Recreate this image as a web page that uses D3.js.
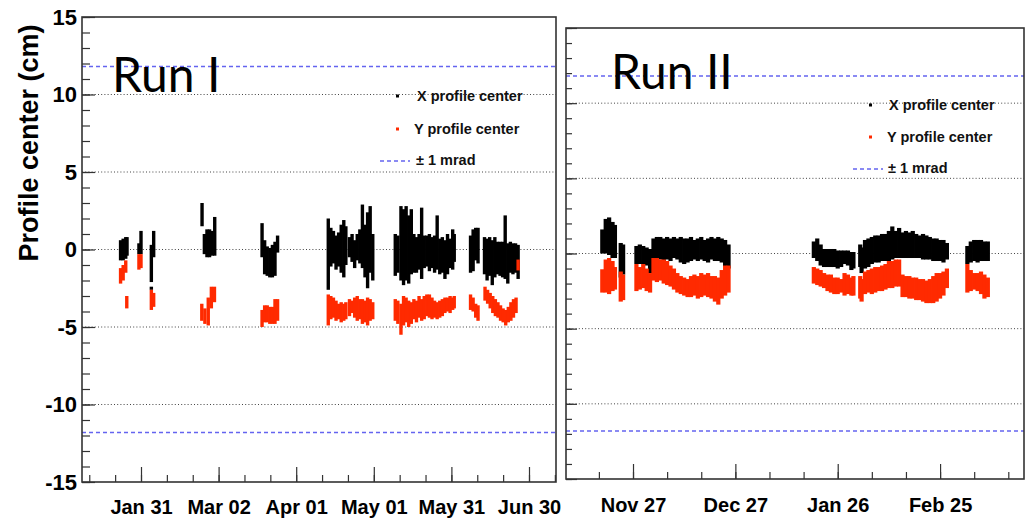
<!DOCTYPE html>
<html>
<head>
<meta charset="utf-8">
<script src="https://cdn.jsdelivr.net/npm/d3@7"></script>
<style>
  body { margin: 0; background: #fff; }
  svg { display: block; }
  text { font-family: "Liberation Sans", Arial, Helvetica, sans-serif; }
</style>
</head>
<body>
<svg id="chart" width="1027" height="520"></svg>
<script>
// ---------- Run I (day of year 2011; rows are [day, low, high] in cm) ----------
const run1X = [
  [23.1,-0.7,0.6],[24.1,-0.7,0.7],[25.1,-0.6,0.8],[25.6,-0.4,0.8],
  [30.2,-0.3,0.4],[31.0,-0.3,1.2],
  [35.0,-2.1,0.3],[35.9,-0.5,1.2],[35.0,-2.6,-2.4],
  [54.6,1.5,3.0],[55.5,-0.3,1.0],[56.5,-0.5,1.3],[57.5,-0.5,1.3],[58.5,-0.4,1.2],[59.5,-0.4,2.1],
  [77.8,-0.5,1.7],[78.8,-1.6,0.6],[79.8,-1.7,0.2],[80.8,-1.8,0.1],[81.8,-1.8,0.3],[82.8,-1.7,0.5],[83.8,-0.2,0.9],
  [103.4,-2.6,2.0],[104.4,-1.1,1.4],[105.4,-0.9,1.2],[106.4,-1.3,0.9],[107.4,-1.1,1.1],[108.4,-1.5,1.6],
  [109.4,-1.8,1.9],[110.2,-1.0,1.5],
  [111.6,-0.5,0.8],[112.6,-0.8,1.0],[113.6,-1.2,0.6],[114.6,-0.7,1.0],[115.6,-0.9,1.3],[116.6,-1.2,2.9],
  [117.6,-1.8,1.6],[118.6,-2.5,2.4],[119.6,-1.5,2.8],[120.6,-2.0,1.0],
  [129.3,-1.7,1.0],[130.3,-1.5,0.9],[131.5,-2.0,2.8],[132.5,-2.3,2.6],[133.5,-2.0,2.8],[134.5,-2.2,2.2],
  [135.5,-1.6,2.6],[136.5,-1.5,1.0],[137.5,-1.5,0.8],[138.5,-1.3,1.0],[139.5,-1.9,2.7],[140.5,-1.2,0.9],
  [141.5,-1.1,0.9],[142.5,-1.4,1.0],[143.5,-1.2,0.8],[144.5,-1.5,0.9],[145.5,-1.3,2.2],[146.5,-1.6,0.7],
  [147.5,-1.5,0.8],[148.5,-1.9,0.6],[149.5,-1.6,1.0],[150.5,-1.2,0.7],[151.5,-1.3,1.3],[152.1,-0.8,1.0],
  [158.4,-1.5,0.9],[159.4,-1.4,1.3],[160.4,-0.7,1.4],[161.3,-0.9,1.4],
  [163.8,-1.6,0.8],[164.8,-2.0,0.7],[165.8,-1.7,0.8],[166.8,-2.3,0.6],[167.8,-1.8,0.8],[168.8,-1.6,0.5],
  [169.8,-1.7,0.5],[170.8,-1.8,0.5],[171.8,-1.9,2.2],[172.8,-2.2,0.4],[173.8,-1.5,0.5],[174.8,-1.6,0.4],
  [175.8,-1.5,0.4],[176.8,-1.9,0.3]
];
const run1Y = [
  [23.1,-2.2,-1.2],[24.1,-2.0,-1.0],[25.1,-1.5,-0.7],[25.5,-3.8,-3.0],
  [30.2,-1.3,-0.3],[31.0,-1.2,-0.3],
  [35.0,-3.9,-2.6],[35.9,-3.7,-2.8],
  [54.5,-4.6,-3.5],[55.7,-4.8,-3.8],[57.0,-4.9,-3.1],[58.2,-3.8,-2.4],[59.4,-3.4,-2.4],
  [77.8,-5.0,-3.9],[78.8,-4.7,-3.6],[79.8,-4.7,-3.6],[80.8,-4.8,-3.7],[81.8,-4.8,-3.7],[82.8,-4.8,-3.2],[83.8,-4.6,-3.2],
  [103.4,-4.9,-2.9],[104.4,-4.5,-3.0],[105.4,-4.4,-3.1],[106.4,-4.6,-3.3],[107.4,-4.5,-3.5],[108.4,-4.7,-3.4],
  [109.4,-4.6,-3.5],[110.2,-4.5,-3.4],
  [111.6,-4.3,-3.2],[112.6,-4.1,-3.3],[113.6,-4.4,-3.1],[114.6,-4.6,-3.0],[115.6,-4.5,-3.2],[116.6,-4.8,-3.2],
  [117.6,-4.7,-3.3],[118.6,-4.9,-3.1],[119.6,-4.6,-3.2],[120.6,-4.5,-3.4],
  [129.3,-4.6,-3.2],[130.3,-4.8,-3.3],[131.5,-5.5,-3.5],[132.5,-4.9,-3.0],[133.5,-4.7,-3.1],[134.5,-5.0,-3.3],
  [135.5,-4.8,-3.4],[136.5,-4.5,-3.2],[137.5,-4.7,-3.3],[138.5,-4.4,-3.0],[139.5,-4.6,-3.2],[140.5,-4.5,-3.0],
  [141.5,-4.3,-2.9],[142.5,-4.4,-2.9],[143.5,-4.5,-3.1],[144.5,-4.4,-3.3],[145.5,-4.5,-3.4],[146.5,-4.4,-3.3],
  [147.5,-4.3,-3.2],[148.5,-4.1,-3.1],[149.5,-4.0,-3.1],[150.5,-4.1,-3.0],[151.5,-3.9,-3.1],[152.1,-3.8,-3.0],
  [158.4,-3.9,-2.9],[159.4,-4.0,-3.1],[160.4,-4.4,-3.5],[161.3,-4.6,-3.6],
  [164,-3.3,-2.4],[165,-3.5,-2.6],[166,-3.8,-2.8],[167,-4.1,-3.0],[168,-4.3,-3.2],[169,-4.4,-3.4],
  [170,-4.6,-3.6],[171,-4.7,-3.8],[172,-4.9,-3.9],[173,-4.7,-3.7],[174,-4.6,-3.4],[175,-4.4,-3.2],
  [176,-4.1,-3.1],[176.8,-1.35,-0.65]
];

// ---------- Run II (days since 1 Nov 2012; rows are [day, low, high] in cm) ----------
const run2X = [
  [17,0.0,1.6],[18,0.0,2.3],[19,-0.1,2.4],[20,-0.3,2.1],[20.7,-0.3,1.9],
  [22.4,-1.6,0.7],[23.1,-1.4,0.6],
  [27,-0.7,0.5],[28,-0.7,0.6],[29,-0.7,0.5],[30,-0.8,0.4],[31,-1.3,0.3],[32,-0.7,1.0],[33,-0.5,1.1],
  [34,-0.4,1.1],[35,-0.5,1.0],[36,-0.4,1.1],[37,-0.5,1.0],[38,-0.3,1.1],[39,-0.4,1.0],[40,-0.6,1.1],
  [41,-0.7,1.0],[42,-0.6,1.0],[43,-0.5,1.1],[44,-0.4,0.9],[45,-0.5,1.0],[46,-0.4,1.1],[47,-0.5,0.9],
  [48,-0.6,1.0],[49,-0.4,1.1],[50,-0.5,1.0],[51,-0.5,1.1],[52,-0.6,1.0],[53,-0.9,0.9],[54,-1.0,0.6],
  [79,-0.3,0.8],[80,-0.5,1.0],[81,-0.8,0.6],[82,-0.9,0.3],[83,-0.9,0.3],[84,-0.9,0.3],[85,-0.9,0.3],
  [86,-1.0,0.2],[87,-0.9,0.2],[88,-0.7,0.2],[89,-0.8,0.2],[90,-1.1,0.1],[90.6,-1.0,0.1],
  [92.6,-0.9,0.6],[93,-1.3,0.4],[94,-1.0,0.9],[95,-0.9,1.0],[96,-0.7,1.1],[97,-0.6,1.2],[98,-0.6,1.2],
  [99,-0.5,1.3],[100,-0.5,1.3],[101,-0.5,1.5],[102,-0.4,1.8],[103,-0.3,1.5],[104,-0.3,1.7],[105,-0.3,1.4],
  [106,-0.3,1.5],[107,-0.3,1.4],[108,-0.3,1.5],[109,-0.3,1.3],[110,-0.3,1.2],[111,-0.4,1.3],[112,-0.4,1.2],
  [113,-0.4,1.1],[114,-0.5,1.0],[115,-0.5,1.0],[116,-0.5,0.9],[117,-0.6,0.9],[118,-0.4,0.7],
  [124,-0.7,0.5],[125,-0.6,0.8],[126,-0.5,0.9],[127,-0.6,0.9],[128,-0.5,0.9],[129,-0.5,0.8],[130,-0.5,0.8]
];
const run2Y = [
  [17,-2.6,-1.05],[18,-2.6,-0.4],[19,-2.7,-0.3],[20,-2.5,-0.5],[20.7,-2.4,-0.9],
  [22.4,-3.2,-1.2],[23.1,-3.1,-1.4],
  [27,-2.5,-0.7],[28,-2.4,-0.9],[29,-2.3,-0.7],[30,-2.5,-1.0],[31,-2.6,-1.3],[32,-1.8,-0.3],[33,-1.9,-0.3],
  [34,-1.8,-0.4],[35,-2.0,-0.4],[36,-2.1,-0.5],[37,-2.2,-0.8],[38,-2.4,-1.0],[39,-2.6,-1.3],[40,-2.7,-1.5],
  [41,-2.8,-1.6],[42,-2.9,-1.7],[43,-2.9,-1.5],[44,-2.8,-1.4],[45,-3.0,-1.5],[46,-2.9,-1.3],[47,-2.8,-1.4],
  [48,-2.9,-1.3],[49,-3.0,-1.5],[50,-3.2,-1.5],[51,-3.4,-1.6],[52,-3.0,-1.1],[53,-2.8,-0.8],[54,-2.6,-0.8],
  [79,-2.0,-0.9],[80,-2.1,-1.0],[81,-2.2,-1.1],[82,-2.3,-1.3],[83,-2.5,-1.4],[84,-2.6,-1.4],[85,-2.7,-1.6],
  [86,-2.7,-1.6],[87,-2.6,-1.7],[88,-2.8,-1.3],[89,-2.7,-1.4],[90,-2.8,-1.6],[90.6,-2.8,-1.5],
  [92.6,-3.0,-1.5],[93,-3.2,-1.7],[94,-2.7,-1.2],[95,-2.6,-1.1],[96,-2.7,-1.0],[97,-2.6,-0.9],[98,-2.5,-0.9],
  [99,-2.5,-0.8],[100,-2.4,-0.7],[101,-2.3,-0.5],[102,-2.3,-0.5],[103,-2.2,-0.4],[104,-2.2,-0.4],[105,-2.9,-1.4],
  [106,-2.9,-1.5],[107,-3.0,-1.5],[108,-3.0,-1.6],[109,-3.1,-1.6],[110,-3.1,-1.7],[111,-3.2,-1.7],[112,-3.3,-1.8],
  [113,-3.3,-1.7],[114,-3.3,-1.5],[115,-3.2,-1.3],[116,-3.0,-1.3],[117,-2.8,-1.2],[118,-2.3,-1.0],
  [124,-2.6,-0.7],[125,-2.5,-1.1],[126,-2.4,-1.3],[127,-2.5,-1.3],[128,-2.7,-1.2],[129,-3.0,-1.4],[130,-2.9,-1.6]
];

// axis settings
const yMajorTicks = [-15, -10, -5, 0, 5, 10, 15];
const gridValues = [-10, -5, 0, 5, 10];
const mradLimits = [11.8, -11.8];
const run1MajorDates = ["2011-01-31", "2011-03-02", "2011-04-01", "2011-05-01", "2011-05-31", "2011-06-30"];
const run2MajorDates = ["2012-11-27", "2012-12-27", "2013-01-26", "2013-02-25"];
const legendLabels = ["X profile center", "Y profile center", "\u00B1 1 mrad"];
const runTitles = ["Run I", "Run II"];

const DAY = 864e5;
const svg = d3.select("#chart");
const fmt = d3.utcFormat("%b %d");

const panels = [
  { title: runTitles[0], xData: run1X, yData: run1Y, base: Date.UTC(2010, 11, 31),
    dayDomain: [8.19, 191.44], majors: run1MajorDates, showYLabels: true,
    left: 82, right: 556, top: 17, bottom: 482,
    yMinor: 8, yMajor: 13, labelPad: 18,
    titleX: 112, titleY: 92,
    leg: { sqX: 396, xY: 96, yY: 129, lineX0: 380, lineX1: 410, lineY: 161, textX: 416, x2: 414 } },
  { title: runTitles[1], xData: run2X, yData: run2Y, base: Date.UTC(2012, 10, 1),
    dayDomain: [6.36, 140.6], majors: run2MajorDates, showYLabels: false,
    left: 566, right: 1024, top: 28, bottom: 479,
    yMinor: 6, yMajor: 11, labelPad: 19,
    titleX: 611, titleY: 89,
    leg: { sqX: 869, xY: 105, yY: 137, lineX0: 853, lineX1: 883, lineY: 169, textX: 888, x2: 887 } }
];

const axisColor = "#333";

panels.forEach(p => {
  const toDate = d => new Date(p.base + d * DAY);
  const x = d3.scaleUtc().domain(p.dayDomain.map(toDate)).range([p.left, p.right]);
  const y = d3.scaleLinear().domain([-15, 15]).range([p.bottom, p.top]);
  const g = svg.append("g");

  // dotted grid at the major y values
  g.append("g").selectAll("line").data(gridValues).join("line")
    .attr("x1", p.left).attr("x2", p.right)
    .attr("y1", d => y(d)).attr("y2", d => y(d))
    .attr("stroke", "#444").attr("stroke-width", 1).attr("stroke-dasharray", "1,2.2");

  // +-1 mrad limits
  g.append("g").selectAll("line").data(mradLimits).join("line")
    .attr("x1", p.left).attr("x2", p.right)
    .attr("y1", d => y(d)).attr("y2", d => y(d))
    .attr("stroke", "#6464f0").attr("stroke-width", 1.5).attr("stroke-dasharray", "4,3");

  // data ranges: X profile (black) then Y profile (red); bins overlap slightly so no seams show
  const drawSeries = (rows, color) => {
    g.append("g").selectAll("rect").data(rows).join("rect")
      .attr("x", d => x(toDate(d[0] - 0.5)) - 0.4)
      .attr("width", d => x(toDate(d[0] + 0.5)) - x(toDate(d[0] - 0.5)) + 0.8)
      .attr("y", d => y(d[2]))
      .attr("height", d => y(d[1]) - y(d[2]))
      .attr("fill", color);
  };
  drawSeries(p.xData, "#000");
  drawSeries(p.yData, "#ff2a00");

  // y ticks (inside frame)
  const yMinorAxis = d3.axisRight(y).tickValues(d3.range(-15, 16)).tickSize(p.yMinor).tickFormat("");
  const yMajorAxis = d3.axisRight(y).tickValues(yMajorTicks).tickSize(p.yMajor).tickFormat("");
  [yMinorAxis, yMajorAxis].forEach(ax => {
    const a = g.append("g").attr("transform", `translate(${p.left},0)`).call(ax);
    a.select(".domain").remove();
    a.selectAll("line").attr("stroke", axisColor).attr("stroke-width", 1.2);
  });
  if (p.showYLabels) {
    const a = g.append("g").attr("transform", `translate(${p.left},0)`)
      .call(d3.axisLeft(y).tickValues(yMajorTicks).tickSize(0).tickPadding(5).tickFormat(d => String(d)));
    a.select(".domain").remove();
    a.selectAll("text").attr("font-size", 22).attr("font-weight", "bold").attr("fill", "#000")
      .style("font-family", '"Liberation Sans", Arial, sans-serif');
  }

  // x ticks: majors every 30 days, minors every 10 days
  const majorDates = p.majors.map(s => new Date(s + "T00:00:00Z"));
  const [d0, d1] = x.domain();
  const minorDates = [];
  for (let k = -30; k <= 30; k++) {
    const t = d3.utcDay.offset(majorDates[0], k * 10);
    if (t >= d0 && t <= d1) minorDates.push(t);
  }
  const xMinorAxis = d3.axisTop(x).tickValues(minorDates).tickSize(7).tickFormat("");
  const xMajorAxis = d3.axisTop(x).tickValues(majorDates).tickSize(15).tickFormat("");
  [xMinorAxis, xMajorAxis].forEach(ax => {
    const a = g.append("g").attr("transform", `translate(0,${p.bottom})`).call(ax);
    a.select(".domain").remove();
    a.selectAll("line").attr("stroke", axisColor).attr("stroke-width", 1.2);
  });
  const xl = g.append("g").attr("transform", `translate(0,${p.bottom})`)
    .call(d3.axisBottom(x).tickValues(majorDates).tickSize(0).tickPadding(p.labelPad).tickFormat(fmt));
  xl.select(".domain").remove();
  xl.selectAll("text").attr("font-size", 20).attr("font-weight", "bold").attr("fill", "#000")
    .style("font-family", '"Liberation Sans", Arial, sans-serif');

  // frame
  g.append("rect").attr("x", p.left).attr("y", p.top)
    .attr("width", p.right - p.left).attr("height", p.bottom - p.top)
    .attr("fill", "none").attr("stroke", axisColor).attr("stroke-width", 1.6);

  // legend
  const L = p.leg;
  g.append("rect").attr("x", L.sqX).attr("y", L.xY - 1.5).attr("width", 3).attr("height", 3).attr("fill", "#000");
  g.append("rect").attr("x", L.sqX).attr("y", L.yY - 1.5).attr("width", 3).attr("height", 3).attr("fill", "#ff2a00");
  g.append("line").attr("x1", L.lineX0).attr("x2", L.lineX1).attr("y1", L.lineY).attr("y2", L.lineY)
    .attr("stroke", "#6464f0").attr("stroke-width", 1.5).attr("stroke-dasharray", "4,3");
  const legText = [[L.textX + 1, L.xY + 5], [L.x2, L.yY + 5], [L.textX, L.lineY + 4]];
  legendLabels.forEach((t, i) => {
    g.append("text").attr("x", legText[i][0]).attr("y", legText[i][1])
      .attr("font-size", 14.5).attr("font-weight", "bold").attr("fill", "#111").text(t);
  });

  // run title
  g.append("text").attr("x", p.titleX).attr("y", p.titleY)
    .style("font-family", "Lato, 'Open Sans', sans-serif")
    .attr("font-size", 48).attr("fill", "#000").text(p.title);
});

// shared y-axis title
svg.append("text")
  .attr("transform", "translate(38,143) rotate(-90)")
  .attr("text-anchor", "middle")
  .attr("font-size", 27).attr("font-weight", "bold").attr("fill", "#000")
  .text("Profile center (cm)");
</script>
</body>
</html>
